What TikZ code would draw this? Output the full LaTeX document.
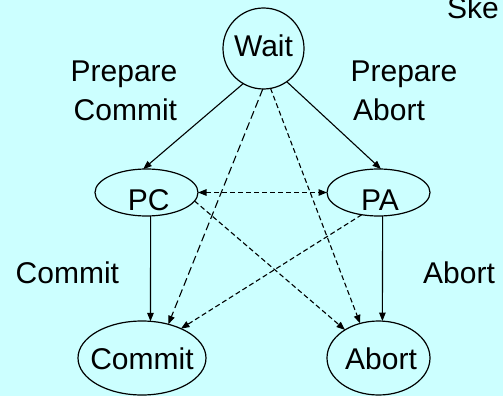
\documentclass[tikz,border=0pt]{standalone}
\usepackage{fontspec}
\setmainfont{Liberation Sans}
\usetikzlibrary{arrows.meta,shapes.geometric}
\definecolor{bgc}{HTML}{CCFFFF}
\begin{document}
\begin{tikzpicture}[x=1pt,y=-1pt,
 state/.style={draw=black, line width=1.2pt, ellipse, inner sep=0pt, outer sep=0pt},
 txt/.style={inner sep=0pt, font=\fontsize{30}{36}\selectfont},
 lbl/.style={inner sep=0pt, anchor=base west, font=\fontsize{30}{36}\selectfont},
 tip/.style={-{Triangle[length=8.5pt,width=6.5pt]}},
 solidarrow/.style={line width=1.1pt, tip},
 dasharrow/.style={solidarrow, dash pattern=on 5pt off 3pt},
 longdash/.style={solidarrow, dash pattern=on 8pt off 4pt}]
\useasboundingbox (0,0) rectangle (503,396);
\fill[bgc] (0,0) rectangle (503,396);

% states
\node[state, circle, minimum size=81pt] (wait) at (263.5,48.5) {};
\node[state, minimum width=103pt, minimum height=47pt] (pc) at (146.5,192.5) {};
\node[state, minimum width=103pt, minimum height=47pt] (pa) at (378.5,192.5) {};
\node[state, minimum width=128pt, minimum height=74pt] (commit) at (142,358) {};
\node[state, minimum width=103pt, minimum height=74pt] (abort) at (378.5,358) {};

% state texts
\node[txt, yshift=2.5pt] (waitt) at (wait) {Wait};
\node[txt, xshift=2.3pt, yshift=-7.5pt] (pct) at (pc) {PC};
\node[txt, xshift=1.5pt, yshift=-7.5pt] (pat) at (pa) {PA};
\node[txt, yshift=-1pt] (committ) at (commit) {Commit};
\node[txt, xshift=2.5pt, yshift=-1pt] (abortt) at (abort) {Abort};

% labels
\node[lbl] (l1a) at (70.5,81.7) {Prepare};
\node[lbl] (l1b) at (73.5,120) {Commit};
\node[lbl] (l2a) at (350.4,81.7) {Prepare};
\node[lbl] (l2b) at (353,120) {Abort};
\node[lbl] (l3) at (15.5,283) {Commit};
\node[lbl] (l4) at (423,283) {Abort};
\node[lbl] (ske) at (447,18.5) {Ske};

% transitions
\draw[solidarrow] (wait.-120) -- (pc.98);
\draw[solidarrow] (wait.-55) -- (pa.84);
\draw[longdash] (wait.-91) -- (commit.52);
\draw[dasharrow] (wait.-80) -- (abort.118);
\draw[dasharrow, {Triangle[length=8.5pt,width=6.5pt]}-{Triangle[length=8.5pt,width=6.5pt]}] (pc.east) -- (pa.west);
\draw[solidarrow] (pc.-80) -- (commit.77);
\draw[solidarrow] (pa.-80) -- (abort.84);
\draw[dasharrow] (pc.-10) -- (abort.140);
\draw[dasharrow] (pa.-127) -- (commit.37);
\end{tikzpicture}
\end{document}
